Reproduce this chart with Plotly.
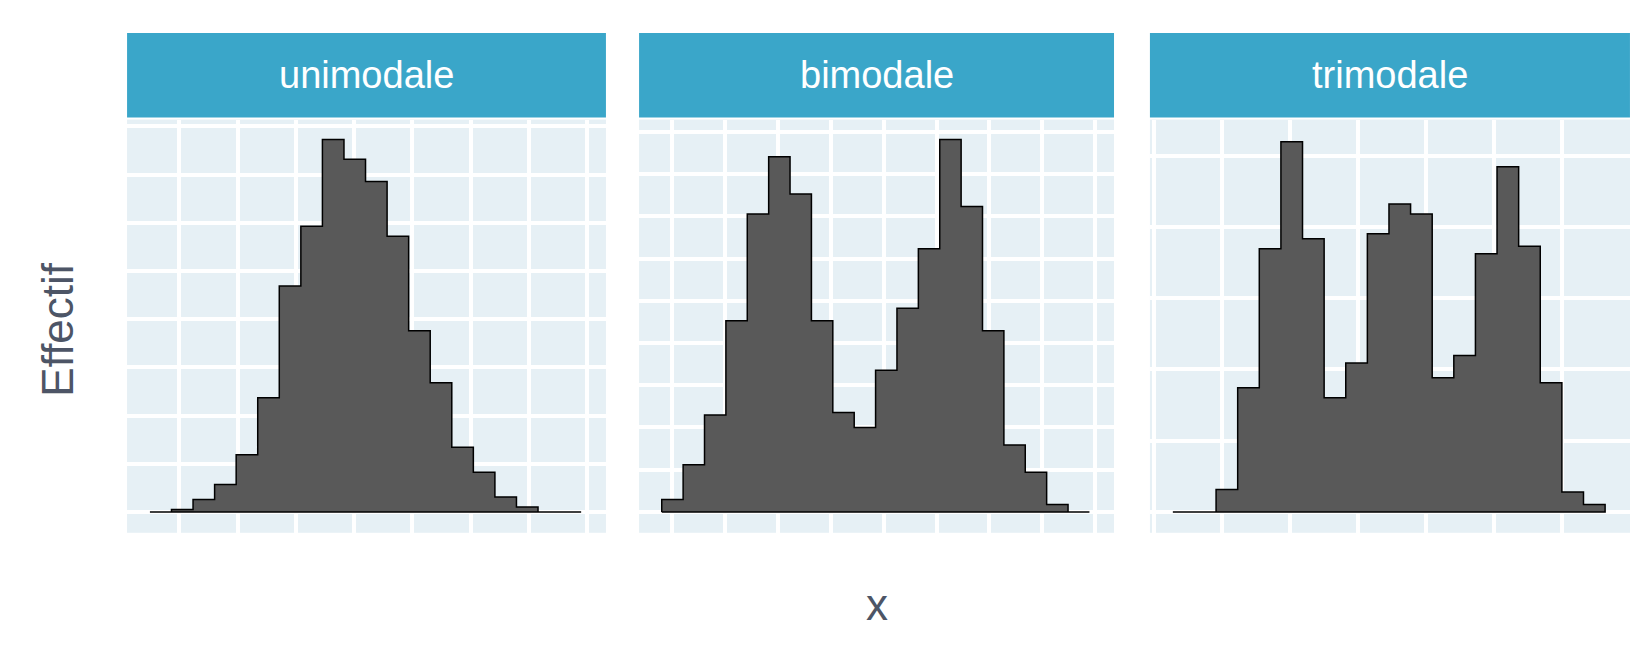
import plotly.graph_objects as go

panels = ["unimodale", "bimodale", "trimodale"]
counts_uni = [0, 1, 5, 11, 23, 46, 91, 115, 150, 142, 133, 111, 73, 52, 26, 16, 6, 2, 0, 0]
counts_bi = [5, 19, 39, 77, 120, 143, 128, 77, 40, 34, 57, 82, 106, 150, 123, 73, 27, 16, 3, 0]
counts_tri = [0, 0, 9, 50, 106, 149, 110, 46, 60, 112, 124, 120, 54, 63, 104, 139, 107, 52, 8, 3]
all_counts = [counts_uni, counts_bi, counts_tri]

# grid settings per panel (in bin units / count units)
x_grid = [(1.37, 2.7), (0.5, 2.47), (2.26, 3.15)]
y_grid = [19.4, 17.0, 28.7]
x_dom = [(0.0726, 0.3646), (0.3848, 0.6744), (0.6963, 0.989)]
y_dom = (0.20, 0.83)
strip_y = (0.833, 0.962)

fig = go.Figure()
for i, counts in enumerate(all_counts):
    xs, ys = [0], [0]
    for j, c in enumerate(counts):
        xs += [j, j + 1]
        ys += [c, c]
    xs += [len(counts), 0]
    ys += [0, 0]
    ax = "" if i == 0 else str(i + 1)
    fig.add_trace(go.Scatter(x=xs, y=ys, mode="lines", fill="toself",
                             fillcolor="#595959", line=dict(color="black", width=1.5),
                             xaxis="x" + ax, yaxis="y" + ax, showlegend=False, hoverinfo="skip"))
    common = dict(showticklabels=False, ticks="", zeroline=False, showline=False,
                  showgrid=True, gridcolor="white", gridwidth=4)
    fig.layout["xaxis" + ax] = dict(domain=list(x_dom[i]), range=[-1.06, 21.15],
                                    tick0=x_grid[i][0], dtick=x_grid[i][1],
                                    anchor="y" + ax, **common)
    fig.layout["yaxis" + ax] = dict(domain=list(y_dom), range=[-8.4, 158],
                                    tick0=0, dtick=y_grid[i], anchor="x" + ax, **common)
    fig.add_shape(type="rect", xref="paper", yref="paper", x0=x_dom[i][0], x1=x_dom[i][1],
                  y0=strip_y[0], y1=strip_y[1], fillcolor="#3AA6C9", line=dict(width=0), layer="below")
    fig.add_annotation(text=panels[i], xref="paper", yref="paper",
                       x=(x_dom[i][0] + x_dom[i][1]) / 2, y=(strip_y[0] + strip_y[1]) / 2,
                       xanchor="center", yanchor="middle",
                       showarrow=False, font=dict(size=38, color="white", family="Liberation Sans"))

fig.add_annotation(text="Effectif", xref="paper", yref="paper", x=0.03, y=0.51, textangle=-90,
                   xanchor="center", yanchor="middle",
                   showarrow=False, font=dict(size=44, color="#4D5566", family="Liberation Sans"))
fig.add_annotation(text="x", xref="paper", yref="paper", x=0.53, y=0.09,
                   xanchor="center", yanchor="middle",
                   showarrow=False, font=dict(size=44, color="#4D5566", family="Liberation Sans"))

fig.update_layout(width=1640, height=656, margin=dict(l=0, r=0, t=0, b=0),
                  paper_bgcolor="white", plot_bgcolor="#E6F0F5")
fig.write_html("out.html")
